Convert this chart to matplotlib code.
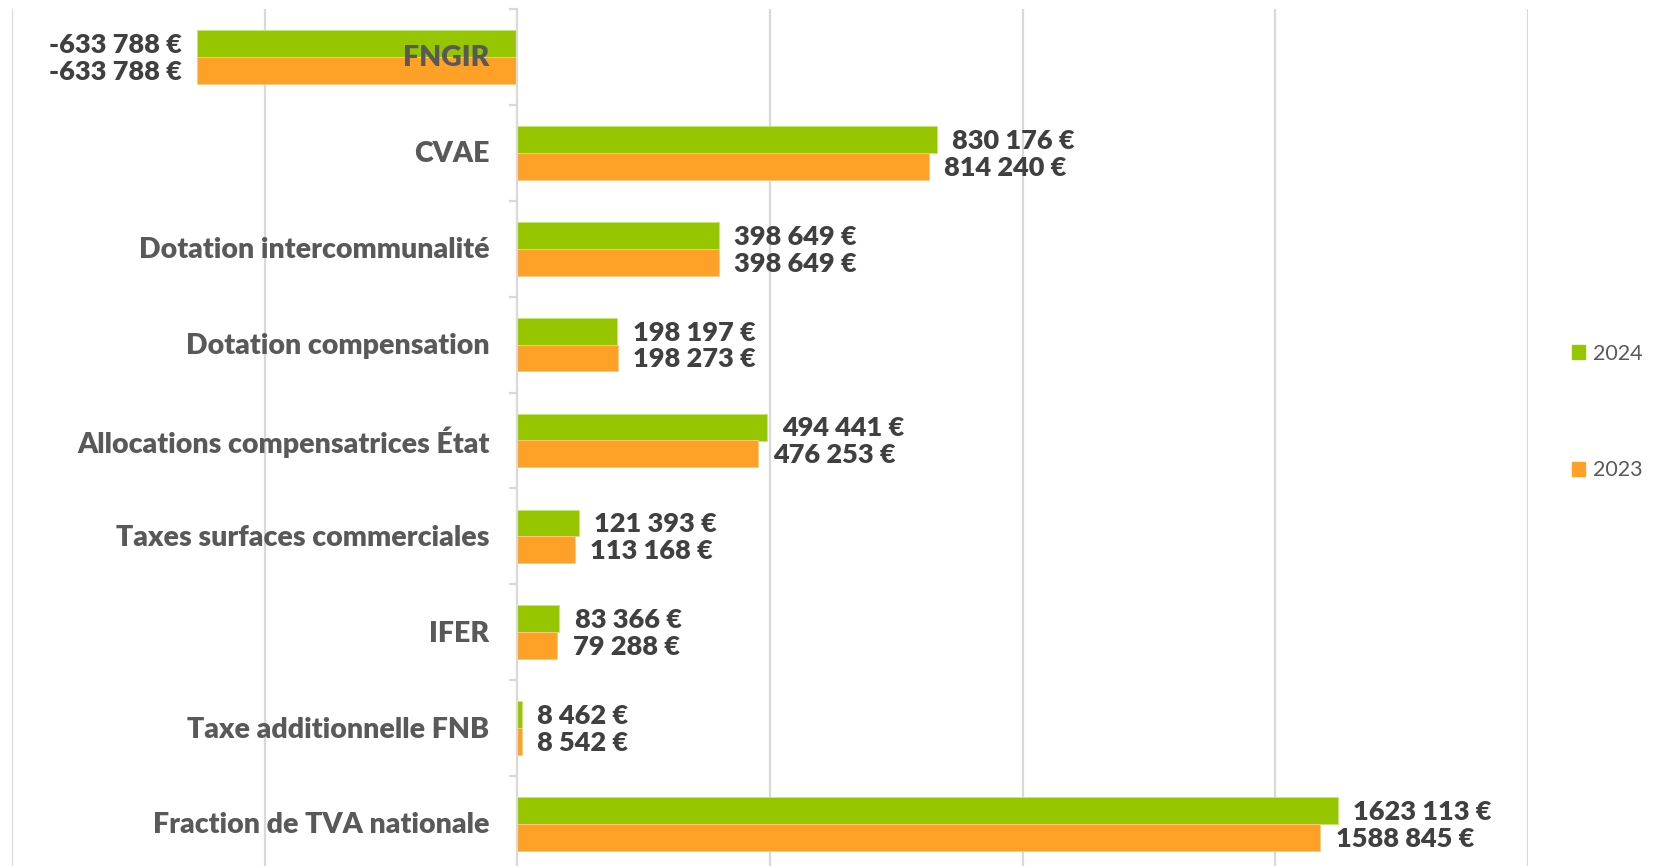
import matplotlib.pyplot as plt
from matplotlib.patches import Patch
from matplotlib.transforms import offset_copy

categories = [
    "FNGIR",
    "CVAE",
    "Dotation intercommunalité",
    "Dotation compensation",
    "Allocations compensatrices État",
    "Taxes surfaces commerciales",
    "IFER",
    "Taxe additionnelle FNB",
    "Fraction de TVA nationale",
]
values_2024 = [-633788, 830176, 398649, 198197, 494441, 121393, 83366, 8462, 1623113]
values_2023 = [-633788, 814240, 398649, 198273, 476253, 113168, 79288, 8542, 1588845]
series_labels = ["2024", "2023"]

GREEN = "#95C600"
ORANGE = "#FFA126"
GRID = "#D9D9D9"
LABEL_GRAY = "#595959"
VALUE_GRAY = "#404040"
FONT = ["Lato", "DejaVu Sans"]


def fmt_euro(v):
    s = f"{abs(v):,}".replace(",", " ")
    # the source prints millions without a separator after the first digit
    if abs(v) >= 1_000_000:
        s = s.replace(" ", "", 1)
    return ("-" if v < 0 else "") + s + " €"


def main():
    plt.rcParams["font.family"] = FONT
    fig = plt.figure(figsize=(16.56, 8.66), dpi=100)
    ax = fig.add_axes([12 / 1656, -6 / 866, (1528 - 12) / 1656, 863 / 866])

    n = len(categories)
    ys = list(range(n))
    h = 0.28

    for x in [-1_000_000, -500_000, 500_000, 1_000_000, 1_500_000, 2_000_000]:
        ax.axvline(x, color=GRID, lw=1.6, zorder=0.5)

    ax.barh([y - h / 2 for y in ys], values_2024, height=h, color=GREEN,
            edgecolor="#C9E37A", linewidth=0.6, zorder=1)
    ax.barh([y + h / 2 for y in ys], values_2023, height=h, color=ORANGE,
            edgecolor="#FFCB80", linewidth=0.6, zorder=1)

    ax.set_xlim(-1_000_000, 2_000_000)
    ax.set_ylim(n - 0.5, -0.5)

    # value labels
    for vals, off in [(values_2024, -h / 2), (values_2023, h / 2)]:
        for y, v in zip(ys, vals):
            dx = 11 if v >= 0 else -11
            tr = offset_copy(ax.transData, fig=fig, x=dx, y=-1, units="points")
            ax.text(v, y + off, fmt_euro(v), transform=tr,
                    ha="left" if v >= 0 else "right", va="center",
                    fontsize=19.5, fontweight="heavy", color=VALUE_GRAY, zorder=3)

    # category labels, drawn over the bars
    for y, c in zip(ys, categories):
        tr = offset_copy(ax.transData, fig=fig, x=-20, y=-1, units="points")
        ax.text(0, y, c, transform=tr, ha="right", va="center",
                fontsize=20.5, fontweight="heavy", color=LABEL_GRAY, zorder=3)

    for s in ["top", "right", "bottom"]:
        ax.spines[s].set_visible(False)
    ax.spines["left"].set_position(("data", 0))
    ax.spines["left"].set_color(GRID)
    ax.spines["left"].set_linewidth(1.6)
    ax.set_xticks([])
    ax.set_yticks([y - 0.5 for y in range(n + 1)])
    ax.set_yticklabels([])
    ax.tick_params(axis="y", length=6, width=1.6, color=GRID, direction="out")

    handles = [Patch(color=GREEN), Patch(color=ORANGE)]
    fig.legend(handles, series_labels, loc="center left",
               bbox_to_anchor=(1553 / 1656, 1 - 412 / 866), frameon=False,
               fontsize=15.5, labelcolor=LABEL_GRAY, handlelength=0.6,
               handleheight=0.6, handletextpad=0.35, labelspacing=4.5)

    fig.savefig("out.png", dpi=100)


if __name__ == "__main__":
    main()
